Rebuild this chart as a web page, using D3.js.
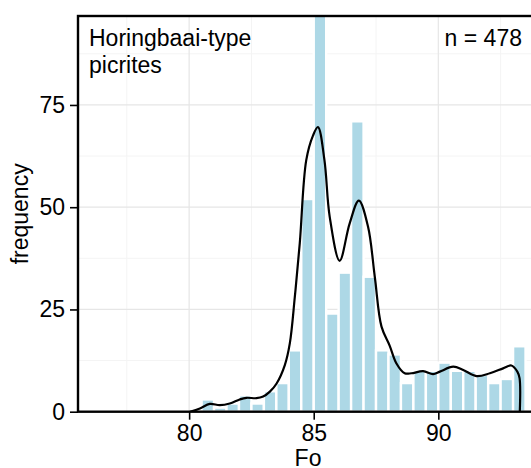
<!DOCTYPE html>
<html>
<head>
<meta charset="utf-8">
<script src="https://cdn.jsdelivr.net/npm/d3@7"></script>
<style>
  body { margin: 0; background: #fff; }
  text { font-family: "Liberation Sans", Arial, Helvetica, sans-serif; fill: #000; }
</style>
</head>
<body>
<div id="chart"></div>
<script>
// Histogram bins (left edge, width 0.5) and counts
const binLeft = [80.5, 81, 81.5, 82, 82.5, 83, 83.5, 84, 84.5, 85, 85.5, 86, 86.5,
  87, 87.5, 88, 88.5, 89, 89.5, 90, 90.5, 91, 91.5, 92, 92.5, 93];
const counts = [3, 1, 2, 4, 2, 5, 7, 15, 52, 97, 24, 34, 71,
  33, 15, 14, 7, 10, 10, 12, 10, 10, 9, 7, 8, 16];
const binWidth = 0.5;

// Density curve (scaled to counts)
const curveFo = [80.03, 80.43, 80.83, 81.23, 81.63, 82.03, 82.30, 82.70, 82.97, 83.24, 83.51,
  83.84, 84.04, 84.24, 84.44, 84.70, 84.97, 85.17, 85.43, 85.64, 86.04, 86.44, 86.81, 87.18,
  87.45, 87.72, 88.05, 88.32, 88.65, 88.92, 89.39, 89.79, 90.06, 90.60, 91.0, 91.53, 92.07,
  92.60, 92.93, 93.17, 93.26, 93.27];
const curveFreq = [0, 0.8, 1.9, 1.6, 2.0, 3.0, 3.4, 3.3, 3.7, 4.9, 6.9,
  11.4, 16.7, 28, 41.2, 61.5, 67.5, 69.6, 61.5, 47.7, 36.9, 46, 51.6, 45.2,
  33, 20.8, 16.1, 11.8, 9.4, 9.4, 9.9, 9.2, 9.8, 11, 10.2, 8.7, 9.4,
  10.6, 11.3, 9.8, 8.2, 0];

const xTicks = [80, 85, 90];
const xMinor = [77.5, 82.5, 87.5, 92.5];
const yTicks = [0, 25, 50, 75];
const yMinor = [12.5, 37.5, 62.5, 87.5];

const titleLines = ["Horingbaai-type", "picrites"];
const nLabel = "n = 478";

const width = 531, height = 468;
const panel = { left: 78, top: 16, right: 538, bottom: 411.7 };

const svg = d3.select("#chart").append("svg")
  .attr("width", width).attr("height", height);

const x = d3.scaleLinear().domain([75.54, 94.0]).range([panel.left, panel.right]);
const y = d3.scaleLinear().domain([0, 96.75]).range([panel.bottom, panel.top]);

svg.append("defs").append("clipPath").attr("id", "clip")
  .append("rect").attr("x", panel.left).attr("y", panel.top)
  .attr("width", panel.right - panel.left).attr("height", panel.bottom - panel.top);

const plot = svg.append("g").attr("clip-path", "url(#clip)");

// Grid
plot.selectAll(".xminor").data(xMinor).enter().append("line")
  .attr("x1", d => x(d)).attr("x2", d => x(d)).attr("y1", panel.top).attr("y2", panel.bottom)
  .attr("stroke", "#f4f4f4").attr("stroke-width", 1);
plot.selectAll(".yminor").data(yMinor).enter().append("line")
  .attr("x1", panel.left).attr("x2", panel.right).attr("y1", d => y(d)).attr("y2", d => y(d))
  .attr("stroke", "#f4f4f4").attr("stroke-width", 1);
plot.selectAll(".xmajor").data(xTicks).enter().append("line")
  .attr("x1", d => x(d)).attr("x2", d => x(d)).attr("y1", panel.top).attr("y2", panel.bottom)
  .attr("stroke", "#e6e6e6").attr("stroke-width", 1.2);
plot.selectAll(".ymajor").data(yTicks.slice(1)).enter().append("line")
  .attr("x1", panel.left).attr("x2", panel.right).attr("y1", d => y(d)).attr("y2", d => y(d))
  .attr("stroke", "#e6e6e6").attr("stroke-width", 1.2);

// Bars
plot.selectAll(".bar").data(binLeft).enter().append("rect")
  .attr("x", d => x(d))
  .attr("width", d => x(d + binWidth) - x(d))
  .attr("y", (d, i) => y(counts[i]))
  .attr("height", (d, i) => y(0) - y(counts[i]))
  .attr("fill", "#ADD8E6").attr("stroke", "#fff").attr("stroke-width", 2.4);

// Density line
const line = d3.line().x(d => x(d[0])).y(d => y(d[1])).curve(d3.curveCatmullRom.alpha(0.5));
plot.append("path").datum(d3.zip(curveFo, curveFreq))
  .attr("d", line).attr("fill", "none").attr("stroke", "#000").attr("stroke-width", 2.2)
  .attr("stroke-linejoin", "round");

// Axes
const xAxis = svg.append("g").attr("transform", `translate(0,${panel.bottom})`)
  .call(d3.axisBottom(x).tickValues(xTicks).tickSize(8).tickPadding(5));
const yAxis = svg.append("g").attr("transform", `translate(${panel.left},0)`)
  .call(d3.axisLeft(y).tickValues(yTicks).tickSize(8).tickPadding(5));
[xAxis, yAxis].forEach(a => {
  a.select(".domain").remove();
  a.selectAll(".tick line").attr("stroke", "#000").attr("stroke-width", 1.6);
  a.selectAll(".tick text").style("font-size", "23px")
    .style("font-family", "'Liberation Sans', Arial, sans-serif").attr("fill", "#000");
});

// Panel border
svg.append("rect").attr("x", panel.left).attr("y", panel.top)
  .attr("width", panel.right - panel.left).attr("height", panel.bottom - panel.top)
  .attr("fill", "none").attr("stroke", "#000").attr("stroke-width", 2.4);

// Labels
svg.append("text").attr("x", (panel.left + panel.right) / 2).attr("y", 466)
  .attr("text-anchor", "middle").style("font-size", "23px").text("Fo");
svg.append("text")
  .attr("transform", `translate(28,${(panel.top + panel.bottom) / 2}) rotate(-90)`)
  .attr("text-anchor", "middle").style("font-size", "23px").text("frequency");

titleLines.forEach((t, i) => {
  svg.append("text").attr("x", 89).attr("y", 45.5 + i * 27.5)
    .style("font-size", "23px").text(t);
});
svg.append("text").attr("x", 522).attr("y", 46)
  .attr("text-anchor", "end").style("font-size", "23px").text(nLabel);
</script>
</body>
</html>
